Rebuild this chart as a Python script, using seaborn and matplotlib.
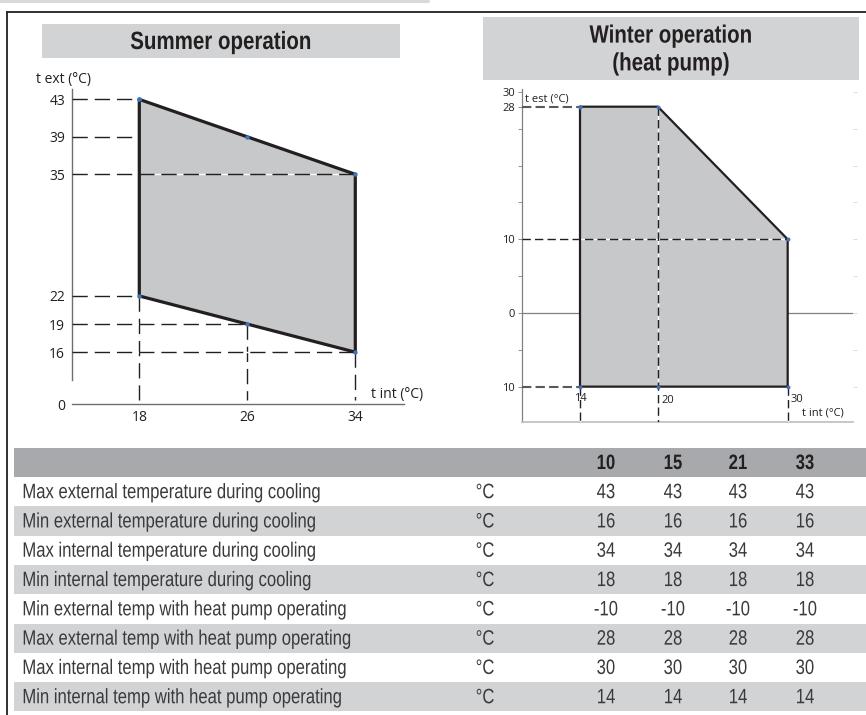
import numpy as np
import pandas as pd
import matplotlib
matplotlib.use("Agg")
import matplotlib.pyplot as plt
import seaborn as sns
from matplotlib.patches import Rectangle
from matplotlib.lines import Line2D
from matplotlib.patheffects import AbstractPathEffect
from matplotlib.transforms import Affine2D

# --- chart data ---
# summer envelope: internal temp columns, max / min external temp at each column
summer_tint = [18, 26, 34]
summer_text_max = [43, 39, 35]
summer_text_min = [22, 19, 16]

# winter (heat pump) envelope
winter_tint = [14, 20, 30]
winter_text_max = [28, 28, 10]
winter_text_min = [-10, -10, -10]
winter_yticks = [30, 28, 10, 0, -10]
winter_ytick_labels = ["30", "28", "10", "0", "10"]

# table
model_sizes = ["10", "15", "21", "33"]
row_labels = [
    "Max external temperature during cooling",
    "Min external temperature during cooling",
    "Max internal temperature during cooling",
    "Min internal temperature during cooling",
    "Min external temp with heat pump operating",
    "Max external temp with heat pump operating",
    "Max internal temp with heat pump operating",
    "Min internal temp with heat pump operating",
]
row_unit = "°C"
row_values = [
    [43, 43, 43, 43],
    [16, 16, 16, 16],
    [34, 34, 34, 34],
    [18, 18, 18, 18],
    [-10, -10, -10, -10],
    [28, 28, 28, 28],
    [30, 30, 30, 30],
    [14, 14, 14, 14],
]


class Squeeze(AbstractPathEffect):
    """Draw text horizontally condensed (no condensed font is installed)."""

    def __init__(self, sx=0.8, anchor="left"):
        super().__init__()
        self.sx = sx
        self.anchor = anchor

    def draw_path(self, renderer, gc, tpath, affine, rgbFace=None):
        ext = tpath.get_extents(affine)
        cx = ext.x0 if self.anchor == "left" else (ext.x0 + ext.x1) / 2
        aff = affine + Affine2D().translate(-cx, 0).scale(self.sx, 1).translate(cx, 0)
        renderer.draw_path(gc, tpath, aff, rgbFace)


# --- style ---
sns.set_style("white")
COND = ["Liberation Sans", "DejaVu Sans"]
plt.rcParams["font.family"] = ["Open Sans", "DejaVu Sans"]
INK = "#231f20"
TXT = "#3a3a3a"
FILL = "#c7c8ca"
BOX = "#d1d3d4"
HEAD = "#a7a9ac"
DOT = "#3f74bd"

W, H = 866, 715


def rect(x0, y0, x1, y1):
    # pixel box (top-left origin) -> figure fraction rect
    return [x0 / W, 1 - y1 / H, (x1 - x0) / W, (y1 - y0) / H]


fig = plt.figure(figsize=(W / 100, H / 100), dpi=100)

# frame and top rule
fig.add_artist(Line2D([0, 428 / W], [1 - 1 / H] * 2, transform=fig.transFigure,
                      color="#d9d9d9", lw=2.2))
fig.add_artist(Line2D([7 / W, 7 / W], [1 - 12 / H, 0], transform=fig.transFigure,
                      color=INK, lw=1.3))
fig.add_artist(Line2D([7 / W, 1], [1 - 12 / H] * 2, transform=fig.transFigure,
                      color=INK, lw=1.3))

# title boxes
for (x0, y0, x1, y1), title in [((42, 24, 400, 58), "Summer operation"),
                                ((483, 17, 859, 80), "Winter operation\n(heat pump)")]:
    r = rect(x0, y0, x1, y1)
    fig.add_artist(Rectangle((r[0], r[1]), r[2], r[3], transform=fig.transFigure,
                             color=BOX, lw=0, zorder=0))
    fig.text((x0 + x1) / 2 / W, 1 - ((y0 + y1) / 2 + 1) / H, title, ha="center",
             va="center", fontsize=18, fontweight="bold", family=COND, color=INK,
             linespacing=1.2, path_effects=[Squeeze(0.82, "center")])

# ---------------- Summer ----------------
ax1 = fig.add_axes(rect(72, 89, 404.3, 404.3))
ax1.set_xlim(13.015, 37.63)
ax1.set_ylim(10.43, 44.11)
y_break = ax1.get_ylim()[0]  # broken axis: the 0 sits on the baseline

sx = summer_tint + summer_tint[::-1]
sy = summer_text_max + summer_text_min[::-1]
ax1.fill(sx, sy, color=FILL, lw=0, zorder=1)
outline = pd.DataFrame({"x": sx + [sx[0]], "y": sy + [sy[0]]})
sns.lineplot(data=outline, x="x", y="y", sort=False, estimator=None,
             color=INK, lw=2.3, ax=ax1, zorder=4)
sns.scatterplot(data=outline, x="x", y="y", color=DOT, s=10, linewidth=0,
                ax=ax1, zorder=5)

dash1 = dict(color=INK, lw=1.0, dashes=(11, 5), gapcolor="white", zorder=3)
x0 = ax1.get_xlim()[0]
for i, (xv, yv) in enumerate(zip(summer_tint, summer_text_max)):
    xend = xv if i in (0, len(summer_tint) - 1) else summer_tint[0]
    ax1.plot([x0, xend], [yv, yv], **dash1)
for xv, yv in zip(summer_tint, summer_text_min):
    ax1.plot([x0, xv], [yv, yv], **dash1)
    ax1.plot([xv, xv], [yv, y_break + 0.45], **dash1)

sns.despine(ax=ax1)
ax1.spines["left"].set_bounds(13.0, 44.11)
for s in ("left", "bottom"):
    ax1.spines[s].set_color("#6d6e71")
    ax1.spines[s].set_linewidth(1.0)
ax1.set_yticks([y_break] + summer_text_min + summer_text_max)
ax1.set_yticklabels(["0"] + [str(v) for v in summer_text_min + summer_text_max])
ax1.set_xticks(summer_tint)
ax1.set_xticklabels([str(v) for v in summer_tint])
ax1.tick_params(length=0, labelsize=10, colors=INK)
ax1.tick_params(axis="y", pad=5)
ax1.tick_params(axis="x", pad=4)
ax1.set_xlabel("")
ax1.set_ylabel("")
ax1.text(37.1, 11.45, "t int (°C)", ha="center", va="center", fontsize=10,
         color=INK, clip_on=False)
fig.text(64 / W, 1 - 80 / H, "t ext (°C)", ha="center", va="center", fontsize=10,
         color=INK)

# ---------------- Winter ----------------
ax2 = fig.add_axes(rect(522, 89, 852.7, 422.3))
ax2.set_xlim(9.53, 35.01)
ax2.set_ylim(-14.84, 30.4)
ybot = ax2.get_ylim()[0]

wx = winter_tint + winter_tint[::-1]
wy = winter_text_max + winter_text_min[::-1]
ax2.fill(wx, wy, color=FILL, lw=0, zorder=1)
woutline = pd.DataFrame({"x": wx + [wx[0]], "y": wy + [wy[0]]})
sns.lineplot(data=woutline, x="x", y="y", sort=False, estimator=None,
             color=INK, lw=1.6, ax=ax2, zorder=4)
sns.scatterplot(data=woutline, x="x", y="y", color=DOT, s=8, linewidth=0,
                ax=ax2, zorder=5)

ax2.axhline(0, color="#808080", lw=0.9, zorder=0.5)
gray_dash = dict(color="#58595b", lw=1.5, dashes=(4.5, 2), zorder=3)
thin_dash = dict(color=INK, lw=1.0, dashes=(6, 3), gapcolor="white", zorder=3)
wx0 = ax2.get_xlim()[0]
ax2.plot([wx0, winter_tint[0]], [winter_text_max[0]] * 2, **gray_dash)
ax2.plot([wx0, winter_tint[-1]], [winter_text_max[-1]] * 2, **thin_dash)
ax2.plot([wx0, winter_tint[0]], [winter_text_min[0]] * 2, **gray_dash)
ax2.plot([winter_tint[1]] * 2, [winter_text_max[1], ybot], **thin_dash)
for xv, yv in [(winter_tint[0], winter_text_min[0]), (winter_tint[-1], winter_text_min[-1])]:
    ax2.plot([xv, xv], [yv, ybot], **thin_dash)

sns.despine(ax=ax2)
ax2.spines["left"].set_color("#808080")
ax2.spines["left"].set_linewidth(0.9)
ax2.spines["bottom"].set_color("#bcbec0")
ax2.spines["bottom"].set_linewidth(1.2)
ax2.set_yticks(winter_yticks)
ax2.set_yticklabels(winter_ytick_labels)
ax2.set_yticks([25, 20, 15, 5, -5], minor=True)
ax2.set_xticks([])
ax2.tick_params(axis="y", which="both", length=3, width=0.6, color="#808080",
                labelsize=8, labelcolor=INK, pad=2)
ax2.set_xlabel("")
ax2.set_ylabel("")
ax2r = ax2.twinx()
ax2r.set_ylim(ax2.get_ylim())
ax2r.set_yticks([30, 25, 20, 15, 10, 5, 0, -5, -10])
ax2r.tick_params(axis="y", length=3, width=0.6, color="#d5d5d5", labelright=False)
for s in ax2r.spines.values():
    s.set_visible(False)

lab_kw = dict(fontsize=8, color=INK, va="center")
ax2.text(winter_tint[0], -11.6, "14", ha="center", **lab_kw)
ax2.text(winter_tint[1] + 0.25, -11.9, "20", ha="left", **lab_kw)
ax2.text(winter_tint[2] + 0.2, -11.7, "30", ha="left", **lab_kw)
ax2.text(32.7, -13.6, "t int (°C)", ha="center", **lab_kw)
ax2.text(9.77, 29.05, "t est (°C)", ha="left", **lab_kw)

# ---------------- Table ----------------
axt = fig.add_axes(rect(0, 440, 866, 715))
axt.set_xlim(0, W)
axt.set_ylim(715, 440)
axt.axis("off")

band_x, head_top, head_h, row_h = 14, 448, 29, 29.3
val_x = [606, 673, 738, 805]
unit_x = 485
sq_left = [Squeeze(0.8, "left")]
sq_mid = [Squeeze(0.8, "center")]
axt.add_patch(Rectangle((band_x, head_top), W - band_x, head_h, color=HEAD, lw=0))
for k, name in enumerate(model_sizes):
    axt.text(val_x[k], head_top + head_h / 2 + 1, name, ha="center", va="center",
             fontsize=15, fontweight="bold", family=COND, color=INK,
             path_effects=sq_mid)

for i, (label, vals) in enumerate(zip(row_labels, row_values)):
    top = head_top + head_h + i * row_h
    if i % 2 == 1:
        axt.add_patch(Rectangle((band_x, top), W - band_x, row_h, color=BOX, lw=0))
    yc = top + row_h / 2 + 1
    axt.text(22, yc, label, ha="left", va="center", fontsize=15, family=COND,
             color=TXT, path_effects=sq_left)
    axt.text(unit_x, yc, row_unit, ha="center", va="center", fontsize=15,
             family=COND, color=TXT, path_effects=sq_mid)
    for k, v in enumerate(vals):
        axt.text(val_x[k], yc, str(v), ha="center", va="center", fontsize=15,
                 family=COND, color=TXT, path_effects=sq_mid)

fig.savefig("out.png", dpi=100)
